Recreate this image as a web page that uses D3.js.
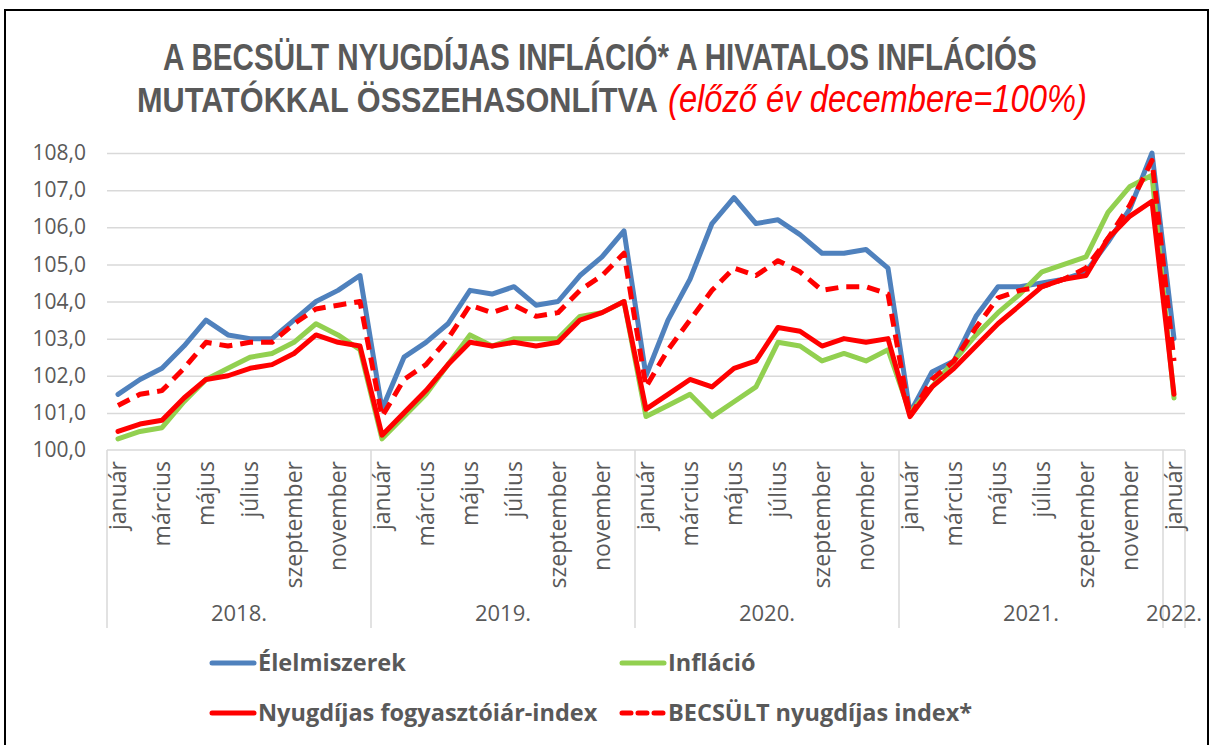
<!DOCTYPE html>
<html>
<head>
<meta charset="utf-8">
<script src="https://cdn.jsdelivr.net/npm/d3@7"></script>
<style>
  body { margin: 0; background: #fff; }
  svg { display: block; }
</style>
</head>
<body>
<svg id="chart" width="1213" height="745"></svg>
<script>
// --- data ---
const years = ['2018.', '2019.', '2020.', '2021.', '2022.'];
const monthNames = ['január', 'február', 'március', 'április', 'május', 'június',
  'július', 'augusztus', 'szeptember', 'október', 'november', 'december'];
const monthsPerYear = [12, 12, 12, 12, 1];

const elelmiszerek = [
  101.5, 101.9, 102.2, 102.8, 103.5, 103.1, 103.0, 103.0, 103.5, 104.0, 104.3, 104.7,
  101.1, 102.5, 102.9, 103.4, 104.3, 104.2, 104.4, 103.9, 104.0, 104.7, 105.2, 105.9,
  102.0, 103.5, 104.6, 106.1, 106.8, 106.1, 106.2, 105.8, 105.3, 105.3, 105.4, 104.9,
  101.0, 102.1, 102.4, 103.6, 104.4, 104.4, 104.5, 104.6, 104.8, 105.6, 106.5, 108.0,
  103.0
];
const inflacio = [
  100.3, 100.5, 100.6, 101.3, 101.9, 102.2, 102.5, 102.6, 102.9, 103.4, 103.1, 102.7,
  100.3, 100.9, 101.5, 102.3, 103.1, 102.8, 103.0, 103.0, 103.0, 103.6, 103.7, 104.0,
  100.9, 101.2, 101.5, 100.9, 101.3, 101.7, 102.9, 102.8, 102.4, 102.6, 102.4, 102.7,
  101.0, 101.7, 102.4, 103.1, 103.7, 104.2, 104.8, 105.0, 105.2, 106.4, 107.1, 107.4,
  101.4
];
const nyugdijasFai = [
  100.5, 100.7, 100.8, 101.4, 101.9, 102.0, 102.2, 102.3, 102.6, 103.1, 102.9, 102.8,
  100.4, 101.0, 101.6, 102.3, 102.9, 102.8, 102.9, 102.8, 102.9, 103.5, 103.7, 104.0,
  101.1, 101.5, 101.9, 101.7, 102.2, 102.4, 103.3, 103.2, 102.8, 103.0, 102.9, 103.0,
  100.9, 101.7, 102.2, 102.8, 103.4, 103.9, 104.4, 104.6, 104.7, 105.7, 106.3, 106.7,
  101.5
];
const becsult = [
  101.2, 101.5, 101.6, 102.2, 102.9, 102.8, 102.9, 102.9, 103.4, 103.8, 103.9, 104.0,
  100.9, 101.9, 102.3, 103.0, 103.9, 103.7, 103.9, 103.6, 103.7, 104.3, 104.7, 105.3,
  101.7, 102.7, 103.5, 104.3, 104.9, 104.7, 105.1, 104.8, 104.3, 104.4, 104.4, 104.2,
  100.9, 101.9, 102.4, 103.3, 104.1, 104.3, 104.4, 104.6, 104.9, 105.7, 106.6, 107.8,
  102.4
];
const yTicks = [100, 101, 102, 103, 104, 105, 106, 107, 108];

const series = [
  {name: 'Élelmiszerek', values: elelmiszerek, color: '#4f81bd', dash: null},
  {name: 'Infláció', values: inflacio, color: '#92d050', dash: null},
  {name: 'Nyugdíjas fogyasztóiár-index', values: nyugdijasFai, color: '#ff0000', dash: null},
  {name: 'BECSÜLT nyugdíjas index*', values: becsult, color: '#ff0000', dash: '13,8'}
];

// categories: one per month, with its year group
const categories = [];
years.forEach((yr, yi) => {
  for (let m = 0; m < monthsPerYear[yi]; m++) {
    categories.push({year: yr, month: monthNames[m], m: m});
  }
});

// --- layout ---
const plot = {left: 107, right: 1185, top: 153, bottom: 450};
const catBottom = 628;
const textColor = '#595959';
const gridColor = '#d9d9d9';
const font = '"Open Sans", "DejaVu Sans", sans-serif';

const svg = d3.select('#chart');

svg.append('rect')
  .attr('x', 5).attr('y', 10)
  .attr('width', 1203).attr('height', 760)
  .attr('fill', '#fff')
  .attr('stroke', '#000')
  .attr('stroke-width', 2);

const x = d3.scaleBand()
  .domain(d3.range(categories.length))
  .range([plot.left, plot.right]);

const y = d3.scaleLinear()
  .domain([100, 108])
  .range([plot.bottom, plot.top]);

const cx = i => x(i) + x.bandwidth() / 2;

// title: squeezed horizontally to mimic the narrow bold face of the original
const titleFont = '"Liberation Sans", Arial, sans-serif';
const titleParts = [
  {text: 'A BECSÜLT NYUGDÍJAS INFLÁCIÓ* A HIVATALOS INFLÁCIÓS', x: 163, y: 70, w: 874, red: false},
  {text: 'MUTATÓKKAL ÖSSZEHASONLÍTVA', x: 137, y: 112, w: 521, red: false},
  {text: '(előző év decembere=100%)', x: 668, y: 112, w: 419, red: true}
];
svg.append('g')
  .selectAll('text')
  .data(titleParts)
  .join('text')
  .style('font-family', titleFont)
  .style('font-weight', d => d.red ? 'normal' : 'bold')
  .style('font-style', d => d.red ? 'italic' : 'normal')
  .style('font-size', d => d.red ? '38px' : '36px')
  .attr('fill', d => d.red ? '#ff0000' : textColor)
  .text(d => d.text)
  .each(function(d) {
    const sx = d.w / this.getComputedTextLength();
    d3.select(this).attr('transform', `translate(${d.x},${d.y}) scale(${sx},1)`);
  });

// gridlines
svg.append('g')
  .attr('class', 'grid')
  .attr('transform', `translate(${plot.left},0)`)
  .call(d3.axisLeft(y).tickValues(yTicks.slice(1)).tickSize(-(plot.right - plot.left)).tickFormat(''))
  .call(g => g.select('.domain').remove())
  .call(g => g.selectAll('line').attr('stroke', gridColor).attr('stroke-width', 1.5));

// y axis labels
svg.append('g')
  .attr('transform', `translate(${plot.left},0)`)
  .call(d3.axisLeft(y).tickValues(yTicks).tickSize(0).tickPadding(21)
    .tickFormat(d => d3.format('.1f')(d).replace('.', ',')))
  .call(g => g.select('.domain').remove())
  .call(g => g.selectAll('text')
    .style('font-family', font)
    .style('font-size', '21px')
    .attr('fill', textColor));

// category axis line and group separators
svg.append('line')
  .attr('x1', plot.left).attr('x2', plot.right)
  .attr('y1', plot.bottom).attr('y2', plot.bottom)
  .attr('stroke', gridColor).attr('stroke-width', 1.5);

const groupStarts = [];
let acc = 0;
monthsPerYear.forEach(n => { groupStarts.push(acc); acc += n; });

svg.append('g')
  .selectAll('line')
  .data(groupStarts.map(s => x(s)).concat([plot.right]))
  .join('line')
  .attr('x1', d => d).attr('x2', d => d)
  .attr('y1', plot.bottom).attr('y2', catBottom)
  .attr('stroke', gridColor).attr('stroke-width', 1.5);

// month labels (every second month)
svg.append('g')
  .attr('transform', `translate(0,${plot.bottom})`)
  .call(d3.axisBottom(x)
    .tickValues(d3.range(categories.length).filter(i => categories[i].m % 2 === 0))
    .tickFormat(i => categories[i].month)
    .tickSize(0))
  .call(g => g.select('.domain').remove())
  .call(g => g.selectAll('text')
    .attr('transform', 'rotate(-90)')
    .attr('text-anchor', 'end')
    .attr('x', -11).attr('y', 0).attr('dy', '0.36em')
    .style('font-family', font)
    .style('font-size', '23px')
    .attr('fill', textColor));

// year labels
svg.append('g')
  .selectAll('text')
  .data(years)
  .join('text')
  .attr('x', (d, i) => (x(groupStarts[i]) + x(groupStarts[i] + monthsPerYear[i] - 1) + x.bandwidth()) / 2)
  .attr('y', 621)
  .attr('text-anchor', 'middle')
  .style('font-family', font)
  .style('font-size', '22px')
  .attr('fill', textColor)
  .text(d => d);

// series lines
const line = d3.line()
  .x((d, i) => cx(i))
  .y(d => y(d));

svg.append('g')
  .selectAll('path')
  .data(series)
  .join('path')
  .attr('d', d => line(d.values))
  .attr('fill', 'none')
  .attr('stroke', d => d.color)
  .attr('stroke-width', 5)
  .attr('stroke-linejoin', 'round')
  .attr('stroke-linecap', d => d.dash ? 'butt' : 'round')
  .attr('stroke-dasharray', d => d.dash);

// legend
const legendPos = [
  {x: 212, y: 663}, {x: 622, y: 663},
  {x: 212, y: 713}, {x: 622, y: 713}
];
const legend = svg.append('g')
  .selectAll('g')
  .data(series)
  .join('g')
  .attr('transform', (d, i) => `translate(${legendPos[i].x},${legendPos[i].y})`);
legend.append('line')
  .attr('x1', 0).attr('x2', 42)
  .attr('stroke', d => d.color)
  .attr('stroke-width', 5)
  .attr('stroke-linecap', 'round')
  .attr('stroke-dasharray', d => d.dash ? '9,7' : null);
legend.append('text')
  .attr('x', 46)
  .attr('dy', '0.36em')
  .style('font-family', font)
  .style('font-weight', 'bold')
  .style('font-size', '23.5px')
  .attr('fill', textColor)
  .text(d => d.name);
</script>
</body>
</html>
